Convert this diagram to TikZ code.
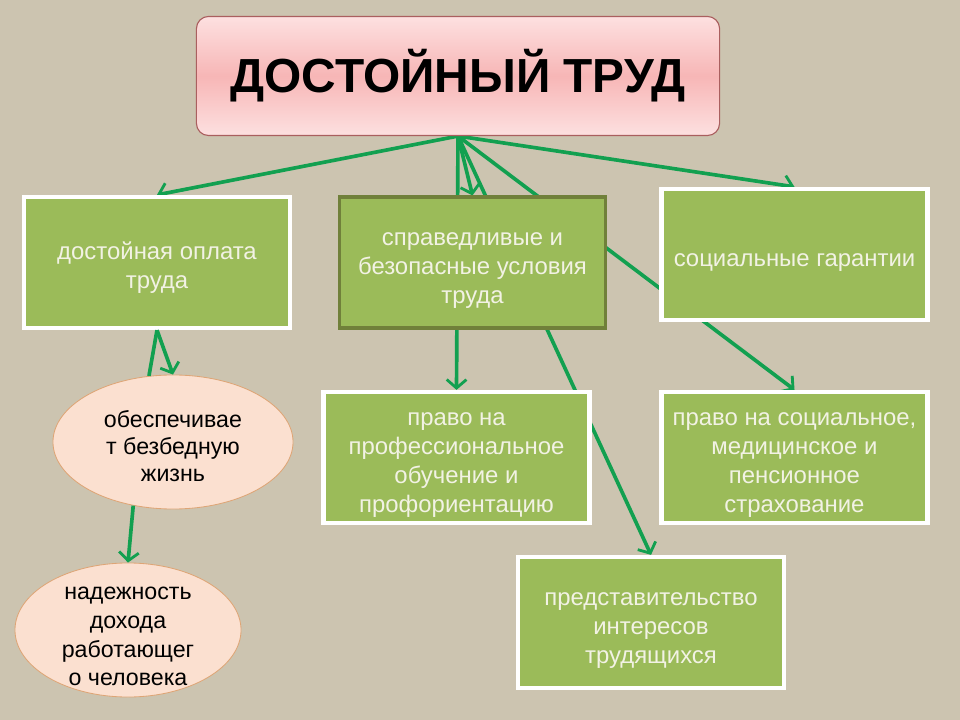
\documentclass[tikz,border=0pt]{standalone}
\usepackage{fontspec}
\setmainfont{Liberation Sans}
\usetikzlibrary{shapes.geometric,arrows.meta,backgrounds}

\definecolor{bgbeige}{RGB}{204,196,176}
\definecolor{boxgreen}{RGB}{155,187,89}
\definecolor{boxtext}{RGB}{242,242,228}
\definecolor{arrgreen}{RGB}{18,160,80}
\definecolor{boxolive}{RGB}{112,128,58}
\definecolor{pinkmid}{RGB}{247,182,182}
\definecolor{pinkedge}{RGB}{253,224,224}
\definecolor{pinkline}{RGB}{170,95,95}
\definecolor{peach}{RGB}{251,224,208}
\definecolor{peachline}{RGB}{222,165,118}

\newcommand{\boxgap}{\rule{0pt}{20pt}}
\newcommand{\ovalgap}{\rule{0pt}{18pt}}

\begin{document}
\begin{tikzpicture}[x=0.025cm, y=-0.025cm,
    box/.style={rectangle, fill=boxgreen, draw=white, line width=3pt, minimum width=6.65cm, minimum height=3.275cm, inner sep=0pt, align=center, text=boxtext, font=\fontsize{17}{20.6}\selectfont},
    oval/.style={ellipse, fill=peach, draw=peachline, line width=0.6pt, minimum width=6cm, minimum height=3.35cm, inner xsep=0pt, inner ysep=-12pt, align=center, font=\fontsize{16.5}{20.6}\selectfont},
    arr/.style={draw=arrgreen, line width=2.6pt, -{Straight Barb[length=6pt,width=14pt,line width=2pt]}}]

        % Nodes
        \node[rectangle, rounded corners=0.3cm, draw=pinkline, line width=0.8pt, top color=pinkedge, bottom color=pinkedge, middle color=pinkmid, minimum width=13.075cm, minimum height=2.975cm, font=\bfseries\fontsize{34}{40}\selectfont] (title) at (458,76) {ДОСТОЙНЫЙ ТРУД};
        \node[box] (pay) at (157,262.5) {\boxgap достойная оплата\\труда};
        \node[box, draw=boxolive, line width=2.2pt] (cond) at (472.5,262.5) {\boxgap справедливые и\\безопасные условия\\труда};
        \node[box] (soc) at (794.5,254.5) {\boxgap социальные гарантии};
        \node[box] (edu) at (456.5,457.5) {\boxgap право на\\профессиональное\\обучение и\\профориентацию};
        \node[box] (ins) at (794.5,457.5) {\boxgap право на социальное,\\медицинское и\\пенсионное\\страхование};
        \node[box] (rep) at (651,622.5) {\boxgap представительство\\интересов\\трудящихся};
        \node[oval, font=\fontsize{16.5}{19}\selectfont] (life) at (173,442) {\ovalgap обеспечивае\\т безбедную\\жизнь};
        \node[oval, minimum width=5.65cm] (income) at (128,630) {\ovalgap надежность\\дохода\\работающег\\о человека};

        % Edges
        \begin{scope}[on background layer]
        \fill[bgbeige] (0,0) rectangle (960,720);
        \draw[arr] (title.south) -- (pay.north);
        \draw[arr] (title.south) -- (soc.north);
        \draw[arr] (title.south) -- (cond.north);
        \draw[arr] (title.south) -- (edu.north);
        \draw[arr] (title.south) -- (rep.north);
        \draw[arr] (title.south) -- (ins.north);
        \end{scope}
        \draw[arrgreen, line width=2.6pt] (life.110) -- (pay.south);
        \draw[arr] (pay.south) -- (life.north);
        \draw[arr] (life.238) -- (income.north);
\end{tikzpicture}
\end{document}
